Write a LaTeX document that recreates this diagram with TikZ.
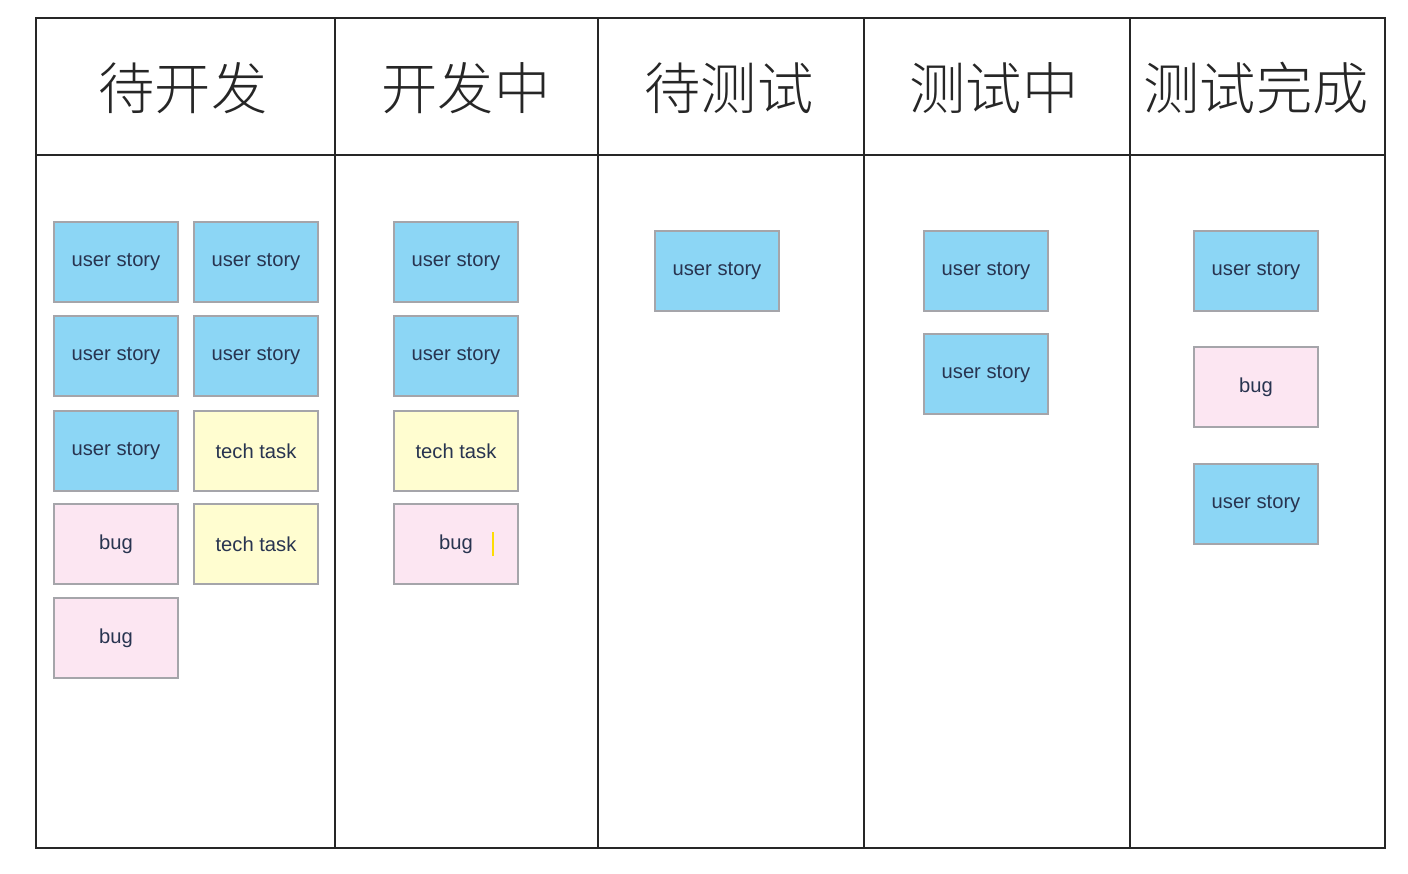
\documentclass[tikz,border=0pt]{standalone}
\usepackage{fontspec}
\setmainfont{Liberation Sans}
\newfontfamily\cjk{Noto Sans CJK SC Light}

\definecolor{storyblue}{RGB}{140,214,245}
\definecolor{bugpink}{RGB}{252,230,242}
\definecolor{taskyellow}{RGB}{255,253,208}
\definecolor{cardedge}{RGB}{165,165,170}
\definecolor{cardtext}{RGB}{40,52,80}

\begin{document}
\begin{tikzpicture}[x=0.02cm, y=-0.02cm]

\tikzset{
  card/.style={draw=cardedge, line width=0.8pt, minimum width=2.48cm, minimum height=1.6cm,
    inner sep=0pt, text=cardtext, font=\fontsize{11.5}{13}\selectfont},
  story/.style={card, fill=storyblue},
  bug/.style={card, fill=bugpink},
  task/.style={card, fill=taskyellow},
  head/.style={font=\cjk\fontsize{32}{36}\selectfont, text=black!85}
}

\useasboundingbox (0,0) rectangle (1408,874);

% --- Quadro (moldura e colunas) ---
\draw[line width=1.1pt, black!85] (36,18) rectangle (1385,848);
\draw[line width=1.1pt, black!85] (36,155) -- (1385,155);
\foreach \x in {335,598,864,1130}
  \draw[line width=1.1pt, black!85] (\x,18) -- (\x,848);

% --- Cabeçalhos ---
\node[head] (h1) at (183,88) {待开发};
\node[head] (h2) at (466,88) {开发中};
\node[head] (h3) at (729,88) {待测试};
\node[head] (h4) at (994,88) {测试中};
\node[head] (h5) at (1256,88) {测试完成};

% --- Coluna 1: 待开发 ---
\node[story] (a1) at (116,262) {user story};
\node[story] (a2) at (256,262) {user story};
\node[story] (a3) at (116,356) {user story};
\node[story] (a4) at (256,356) {user story};
\node[story] (a5) at (116,451) {user story};
\node[task]  (a6) at (256,451) {tech task};
\node[bug]   (a7) at (116,544) {bug};
\node[task]  (a8) at (256,544) {tech task};
\node[bug]   (a9) at (116,638) {bug};

% --- Coluna 2: 开发中 ---
\node[story] (b1) at (456,262) {user story};
\node[story] (b2) at (456,356) {user story};
\node[task]  (b3) at (456,451) {tech task};
\node[bug]   (b4) at (456,544) {bug};
\draw[line width=1pt, yellow!80!orange] ([xshift=0.74cm,yshift=0.24cm]b4.center) -- ([xshift=0.74cm,yshift=-0.24cm]b4.center);

% --- Coluna 3: 待测试 ---
\node[story] (c1) at (717,271) {user story};

% --- Coluna 4: 测试中 ---
\node[story] (d1) at (986,271) {user story};
\node[story] (d2) at (986,374) {user story};

% --- Coluna 5: 测试完成 ---
\node[story] (e1) at (1256,271) {user story};
\node[bug]   (e2) at (1256,387) {bug};
\node[story] (e3) at (1256,504) {user story};

\end{tikzpicture}
\end{document}
